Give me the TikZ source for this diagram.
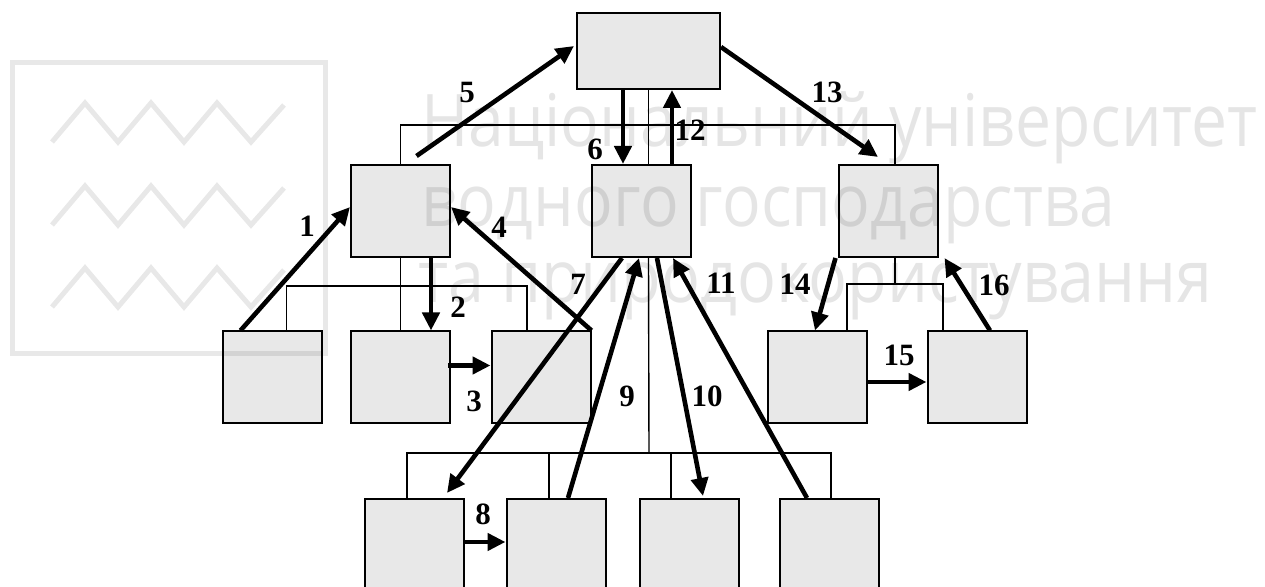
\documentclass[tikz,border=0pt]{standalone}
\usepackage{fontspec}
\setmainfont{Liberation Serif}
\newfontfamily\wmfont{Open Sans}
\usetikzlibrary{arrows.meta,calc}

\tikzset{
  blk/.style={draw,line width=1pt,fill=black!9,minimum width=49.5pt,minimum height=46pt,inner sep=0pt},
  tree/.style={line width=0.7pt},
  flow/.style={line width=2.3pt,-{Triangle[length=9pt,width=8.5pt]}},
  num/.style={font=\bfseries\fontsize{15.5}{15.5}\selectfont,inner sep=0pt},
  wm/.style={text=black,text opacity=0.1,inner sep=0pt,anchor=base west,font=\wmfont\fontsize{36}{36}\selectfont},
  logo/.style={line width=2.5pt,draw opacity=0.09}
}
\newcommand{\wmline}[2]{\scalebox{1}[1.13]{\resizebox{#1}{!}{#2}}}

\begin{document}
\begin{tikzpicture}[x=0.5pt,y=-0.5pt]

\useasboundingbox (0,0) rectangle (1265,587);
\clip (0,0) rectangle (1265,587);

%boxes
\node [blk,minimum width=71.5pt,minimum height=38pt] (top) at (648.5,51) {};
\node [blk] (L) at (400.5,211) {};
\node [blk] (M) at (641.5,211) {};
\node [blk] (R) at (888,211) {};
\node [blk] (A) at (272.5,377.5) {};
\node [blk] (B) at (400.5,377.5) {};
\node [blk] (C) at (541,377.5) {};
\node [blk] (H) at (817,377.5) {};
\node [blk] (I) at (977,377.5) {};
\node [blk] (D) at (414.5,545) {};
\node [blk] (E) at (556,545) {};
\node [blk] (F) at (689,545) {};
\node [blk] (G) at (829,545) {};

%tree lines
\coordinate (tbus) at (649,125);
\coordinate (lbus) at (400,286);
\coordinate (mbus) at (649,453);
\coordinate (rbus) at (895,284);
\draw [tree] (top.south) -- (top.south |- M.north);
\draw [tree] (L.north) |- (tbus) -| ([xshift=3.5pt]R.north);
\draw [tree] (L.south) -- (B.north);
\draw [tree] ([xshift=7pt]A.north) |- (lbus) -| ([xshift=-7pt]C.north);
\draw [tree] (top.south |- M.south) -- (mbus);
\draw [tree] ([xshift=-3.75pt]D.north) |- (mbus) -| ([xshift=1pt]G.north);
\draw [tree] ([xshift=-3.5pt]E.north) -- ([xshift=-3.5pt]E.north |- mbus);
\draw [tree] ([xshift=-9pt]F.north) -- ([xshift=-9pt]F.north |- mbus);
\draw [tree] (rbus |- R.south) -- (rbus);
\draw [tree] ([xshift=15pt]H.north) |- (rbus) -| ([xshift=-17pt]I.north);

%arrows
\draw [flow] ([xshift=-16pt]A.north) -- ([yshift=2pt]L.west);
\draw [flow] ([xshift=15.25pt]L.south) -- ([xshift=15.25pt]L.south |- B.north);
\draw [flow] ([xshift=-1.5pt,yshift=6pt]B.east) -- ([yshift=6pt]C.west);
\draw [flow] (C.north east) -- ([yshift=2pt]L.east);
\draw [flow] ([xshift=8pt,yshift=4pt]L.north) -- ([xshift=-1pt,yshift=2.5pt]top.west);
\draw [flow] ([xshift=-12.75pt]top.south) -- ([xshift=-12.75pt]top.south |- M.north);
\draw [flow] ([xshift=-9.75pt]M.south) -- ([xshift=-9pt,yshift=2.5pt]D.north east);
\draw [flow] ([yshift=1.5pt]D.east) -- ([yshift=1.5pt]E.west);
\draw [flow] ([xshift=6pt]E.north) -- ([xshift=-1.25pt]M.south);
\draw [flow] ([xshift=7.75pt]M.south) -- ([xshift=7pt,yshift=1pt]F.north);
\draw [flow] ([xshift=-11pt]G.north) -- ([xshift=15.75pt]M.south);
\draw [flow] ([xshift=15.25pt]M.north) -- ([xshift=15.25pt]M.north |- top.south);
\draw [flow] ([yshift=2pt]top.east) -- ([xshift=-5pt,yshift=3.5pt]R.north);
\draw [flow] ([xshift=-1pt]R.south west) -- ([xshift=-1pt]H.north);
\draw [flow] ([yshift=-2.25pt]H.east) -- ([yshift=-2.25pt]I.west);
\draw [flow] ([xshift=6.5pt]I.north) -- ([xshift=3pt]R.south east);

%arrow numbers
\node [num] (n1) at (307,226) {1};
\node [num] (n2) at (458,307) {2};
\node [num] (n3) at (474,401) {3};
\node [num] (n4) at (499,227) {4};
\node [num] (n5) at (467,93) {5};
\node [num] (n6) at (595,149) {6};
\node [num] (n7) at (578,284) {7};
\node [num] (n8) at (483,514) {8};
\node [num] (n9) at (627,396) {9};
\node [num] (n10) at (707,396) {10};
\node [num] (n11) at (721,283) {11};
\node [num] (n12) at (690,130) {12};
\node [num] (n13) at (827,92) {13};
\node [num] (n14) at (795,284) {14};
\node [num] (n15) at (899,355) {15};
\node [num] (n16) at (994,285) {16};

%watermark
\draw [logo] (12,63) rectangle (325,354);
\foreach \dy in {0,83,165}
  \draw [logo] (52,142+\dy) -- (85,103+\dy) -- (118,142+\dy) -- (151,103+\dy)
    -- (184,142+\dy) -- (217,103+\dy) -- (251,142+\dy) -- (284,105+\dy);
\node [wm] (w1) at (421,147) {\wmline{418pt}{Національний університет}};
\node [wm] (w2) at (421,227) {\wmline{347pt}{водного господарства}};
\node [wm] (w3) at (418,303) {\wmline{397pt}{та природокористування}};

\end{tikzpicture}
\end{document}
